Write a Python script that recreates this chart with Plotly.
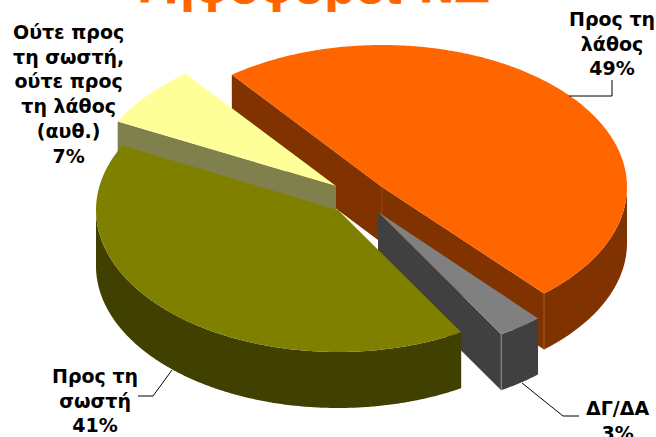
import math
import plotly.graph_objects as go

# Data
categories = ["Προς τη<br>λάθος", "ΔΓ/ΔΑ", "Προς τη<br>σωστή", "Ούτε προς<br>τη σωστή,<br>ούτε προς<br>τη λάθος<br>(αυθ.)"]
values = [49, 3, 41, 7]
top_colors = ["#FF6600", "#808080", "#808000", "#FFFF99"]
side_colors = ["#803300", "#404040", "#404000", "#80804D"]
title_text = "Ψηφοφόροι ΝΔ"

# Projection
START = -37.8
RXS = [245, 242, 242, 245]
RY, DEPTH = 142, 56
CENTERS = [(382, 187), (378, 212), (338, 210), (336, 186)]
DRAW_ORDER = [0, 3, 1, 2]
LABEL_POS = [(612, 43), (617, 420), (95, 400), (68, 94)]
LEADERS = [[(569, 96), (612, 96), (612, 80)], [(522, 383), (563, 416), (579, 416)], [(172, 370), (153, 396), (138, 396)]]
TOTAL = sum(values)


def pt(c, rx, deg, dz=0):
    a = math.radians(deg)
    return c[0] + rx * math.sin(a), c[1] - RY * math.cos(a) + dz


def arc(c, rx, a0, a1, dz=0):
    n = max(2, int(abs(a1 - a0) * 2))
    return [pt(c, rx, a0 + (a1 - a0) * i / n, dz) for i in range(n + 1)]


def add_poly(fig, pts, color):
    fig.add_trace(go.Scatter(
        x=[p[0] for p in pts] + [pts[0][0]],
        y=[p[1] for p in pts] + [pts[0][1]],
        mode="none", fill="toself", fillcolor=color,
        hoverinfo="skip", showlegend=False))


def add_line(fig, pts, color, width):
    fig.add_trace(go.Scatter(
        x=[p[0] for p in pts], y=[p[1] for p in pts], mode="lines",
        line=dict(color=color, width=width),
        hoverinfo="skip", showlegend=False))


spans = []
ang = START
for v in values:
    spans.append((ang, ang + v / TOTAL * 360))
    ang = spans[-1][1]

fig = go.Figure()
for i in DRAW_ORDER:
    c, rx, (a0, a1) = CENTERS[i], RXS[i], spans[i]
    top, side = top_colors[i], side_colors[i]
    # radial faces turned toward the viewer
    for a, off in ((a0, -90), (a1, 90)):
        if math.cos(math.radians(a + off)) < 0:
            p = pt(c, rx, a)
            add_poly(fig, [c, p, (p[0], p[1] + DEPTH), (c[0], c[1] + DEPTH)], side)
    # outer wall, front half only
    w0, w1 = max(a0, 90), min(a1, 270)
    if w1 > w0:
        add_poly(fig, arc(c, rx, w0, w1) + arc(c, rx, w1, w0, DEPTH), side)
        q = pt(c, rx, w1)
        if i == 0:
            add_line(fig, [q, (q[0], q[1] + DEPTH)], "#B0703F", 0.7)
        if i == 1:
            add_line(fig, [q, (q[0], q[1] + DEPTH)], "#A8A8A8", 0.7)
    add_poly(fig, [c] + arc(c, rx, a0, a1), top)
    if i == 0:
        add_line(fig, [c, (c[0], c[1] + DEPTH)], "#A05020", 0.6)

for seg in LEADERS:
    add_line(fig, seg, "#000000", 1)

annotations = [dict(x=307 / 656, y=1, xref="paper", yref="paper", yshift=13, text=f"<b>{title_text}</b>", showarrow=False,
                    font=dict(family="DejaVu Sans", size=44, color="#FF6600"), xanchor="center", yanchor="middle")]
for name, v, (x, y) in zip(categories, values, LABEL_POS):
    annotations.append(dict(x=x, y=y, xref="x", yref="y", text=f"<b>{name}<br>{v}%</b>", showarrow=False,
                            font=dict(family="DejaVu Sans", size=19, color="#000000"),
                            xanchor="center", yanchor="middle", align="center"))

fig.update_layout(
    width=656, height=437, margin=dict(l=0, r=0, t=0, b=0),
    paper_bgcolor="#FFFFFF", plot_bgcolor="#FFFFFF", showlegend=False,
    xaxis=dict(range=[0, 656], visible=False, fixedrange=True),
    yaxis=dict(range=[437, 0], visible=False, fixedrange=True),
    annotations=annotations)
fig.write_html("out.html", config=dict(displayModeBar=False),
               post_script="document.body.style.margin='0';document.body.style.overflow='hidden';")
